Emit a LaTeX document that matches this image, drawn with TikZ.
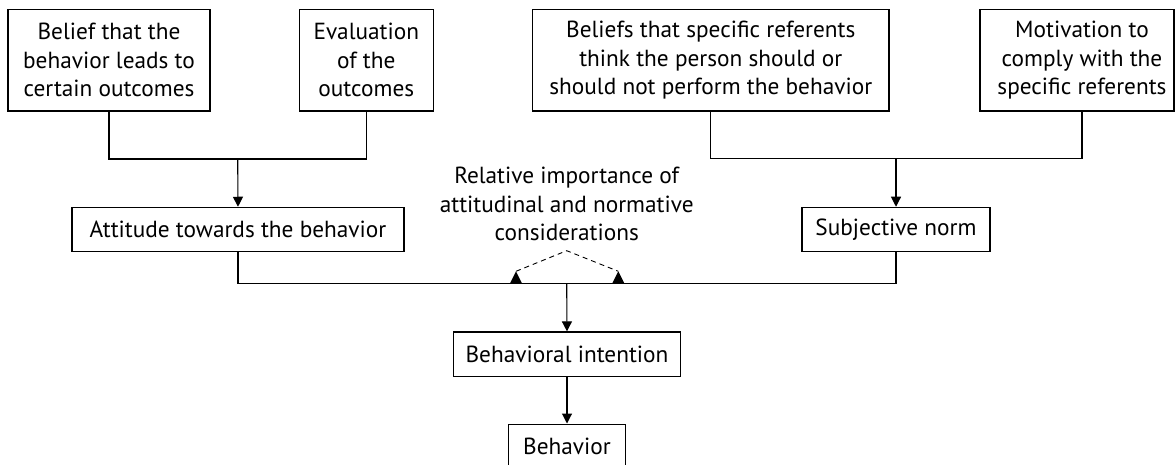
\documentclass[tikz,border=0pt]{standalone}
\usepackage{fontspec}
\setmainfont{PT Sans}
\usetikzlibrary{arrows.meta}
\begin{document}
\begin{tikzpicture}[x=1pt,y=-1pt,
  every node/.style={font=\fontsize{23.3}{28.5}\selectfont},
  box/.style={draw, line width=1.1pt, inner sep=0pt, align=center},
  conn/.style={line width=1.1pt},
  arr/.style={line width=1.1pt, -{Triangle[length=10pt,width=10pt]}},
]
\useasboundingbox (0,0) rectangle (1175,465);
\clip (0,0) rectangle (1175,465);
% top boxes
\node[box, minimum width=202pt, minimum height=101.7pt] (b1) at (109,60.2)
  {Belief that the\\behavior leads to\\certain outcomes};
\node[box, minimum width=134pt, minimum height=101.7pt] (b2) at (366.3,60.2)
  {Evaluation\\of the\\outcomes};
\node[box, minimum width=356.3pt, minimum height=101.7pt] (b3) at (710.8,60.2)
  {Beliefs that specific referents\\think the person should or\\should not perform the behavior};
\node[box, minimum width=194pt, minimum height=101.7pt] (b4) at (1077,60.2)
  {\hspace*{10pt}Motivation to\\\hspace*{10pt}comply with the\\\hspace*{10pt}specific referents};
% middle boxes
\node[box, minimum width=332pt, minimum height=44.4pt] (att) at (238,229.5)
  {Attitude towards the behavior};
\node[box, minimum width=188pt, minimum height=44.4pt] (sn) at (896,229.5)
  {Subjective norm};
\node[align=center, inner sep=0pt] (rel) at (566.7,204)
  {Relative importance of\\attitudinal and normative\\considerations};
% bottom boxes
\node[box, minimum width=227.4pt, minimum height=44.7pt] (bi) at (567,354.3)
  {Behavioral intention};
\node[box, minimum width=117.4pt, minimum height=44.7pt] (beh) at (567,446.4)
  {Behavior};
% junctions
\coordinate (j1) at (237.7,159);
\coordinate (j2) at (896,158.5);
\coordinate (j3) at (566.7,283.3);
\coordinate (apex) at (566.7,250.7);
\coordinate (t1) at (516,283.3);
\coordinate (t2) at (618.3,283.3);
% connectors
\draw[conn] (b1.south) |- (j1) -| (b2.south);
\draw[arr] (j1) -- (att.north);
\draw[conn] (b3.south) |- (j2) -| ([xshift=5pt]b4.south);
\draw[arr] (j2) -- (sn.north);
\draw[conn] (att.south) |- (j3) -| (sn.south);
\draw[arr] (j3) -- (bi.north);
\draw[arr] (bi.south) -- (beh.north);
% weighting triangles
\fill (t1) ++(-6,0) -- ++(12,0) -- ++(-6,-12) -- cycle;
\fill (t2) ++(-6,0) -- ++(12,0) -- ++(-6,-12) -- cycle;
\draw[line width=0.9pt, dash pattern=on 5pt off 4pt] ([yshift=12pt]t1) -- (apex) -- ([yshift=12pt]t2);
\end{tikzpicture}
\end{document}
